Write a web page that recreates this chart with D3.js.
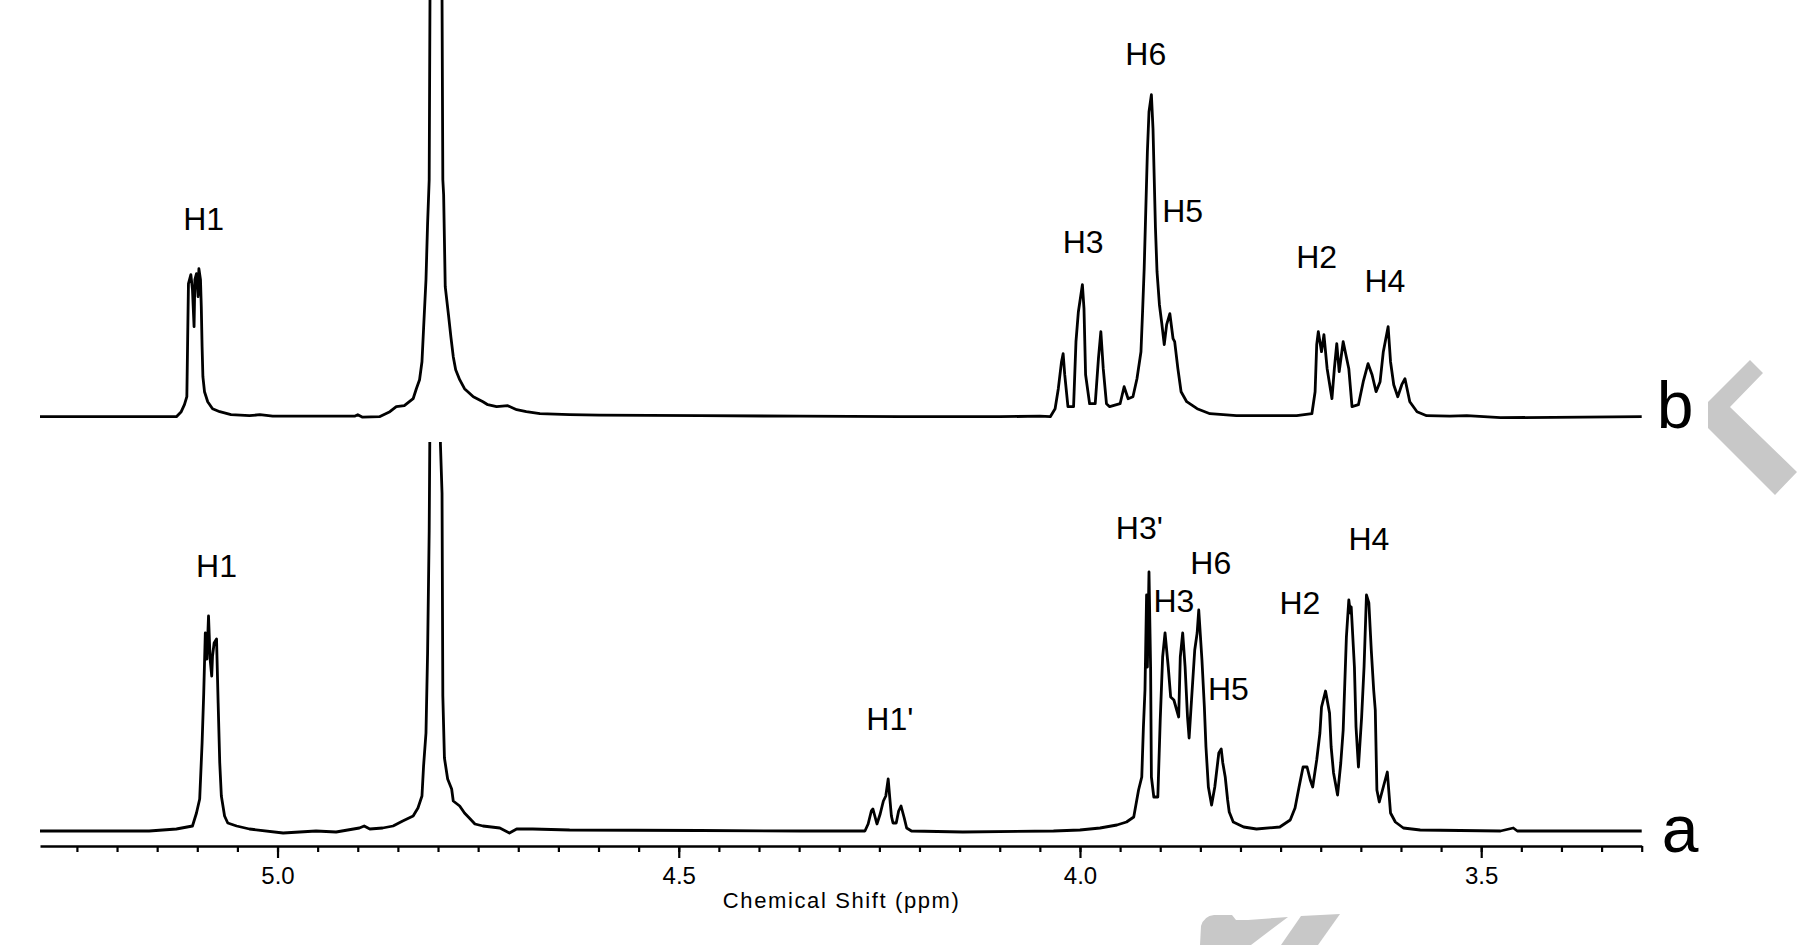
<!DOCTYPE html>
<html>
<head>
<meta charset="utf-8">
<script src="https://cdn.jsdelivr.net/npm/d3@7/dist/d3.min.js"></script>
<style>
  body { margin: 0; background: #fff; }
  text { font-family: "Liberation Sans", Arial, sans-serif; fill: #000; }
</style>
</head>
<body>
<div id="chart"></div>
<script>
// spectrum b (upper trace): chemical shift (ppm) and intensity
const bPpm = [5.296, 5.197, 5.126, 5.120, 5.116, 5.113, 5.112, 5.111, 5.108, 5.106, 5.104, 5.103, 5.101, 5.099, 5.098,
  5.096, 5.095, 5.094, 5.093, 5.091, 5.087, 5.081, 5.072, 5.058, 5.035, 5.022, 5.006, 4.904, 4.900, 4.894, 4.873,
  4.860, 4.852, 4.842, 4.831, 4.827, 4.823, 4.820, 4.818, 4.815, 4.813, 4.811, 4.810, 4.809, 4.802, 4.796, 4.795,
  4.794, 4.793, 4.791, 4.787, 4.784, 4.781, 4.778, 4.773, 4.767, 4.756, 4.744, 4.738, 4.727, 4.713, 4.702, 4.690,
  4.673, 4.636, 4.599, 4.474, 4.349, 4.224, 4.100, 4.050, 4.037, 4.031, 4.027, 4.023, 4.021, 4.019, 4.015, 4.008,
  4.005, 4.002, 3.997, 3.995, 3.993, 3.988, 3.981, 3.977, 3.974, 3.971, 3.967, 3.963, 3.950, 3.945, 3.940, 3.934,
  3.929, 3.924, 3.922, 3.920, 3.916, 3.914, 3.911, 3.909, 3.906, 3.904, 3.901, 3.898, 3.895, 3.892, 3.888, 3.884,
  3.882, 3.878, 3.874, 3.867, 3.854, 3.838, 3.805, 3.730, 3.711, 3.707, 3.705, 3.703, 3.699, 3.696, 3.692, 3.686,
  3.683, 3.680, 3.677, 3.672, 3.665, 3.661, 3.653, 3.647, 3.641, 3.636, 3.631, 3.626, 3.622, 3.616, 3.613, 3.609,
  3.604, 3.599, 3.595, 3.589, 3.580, 3.568, 3.539, 3.518, 3.476, 3.300];
const bIntensity = [0, 0, 0, 5, 12, 20, 77, 133, 142, 127, 90, 137, 143, 120, 148,
  137, 110, 70, 40, 25, 15, 8, 5, 2, 1, 2, 0.5, 0.5, 2, -0.5, 0,
  5, 10, 11, 18, 28, 37, 55, 88, 137, 193, 237, 420, 800, 900, 800, 420,
  237, 222, 130, 102, 80, 60, 47, 37, 28, 20, 15, 12, 10, 11, 7, 5,
  3, 2, 1.5, 1, 0.5, 0, 0, 0.5, 0, 8, 28, 55, 63, 42, 10, 10,
  75, 105, 132, 108, 42, 13, 13, 58, 85, 48, 13, 10, 13, 30, 18, 20,
  38, 65, 105, 148, 265, 305, 322, 288, 190, 145, 112, 93, 72, 92, 103, 78,
  75, 48, 25, 15, 8, 3, 1, 1, 3, 25, 72, 85, 65, 82, 48, 18,
  48, 73, 45, 75, 48, 10, 12, 35, 53, 42, 25, 35, 65, 90, 55, 32,
  20, 32, 38, 15, 5, 1, 0.5, 1, -1, 0];

// spectrum a (lower trace)
const aPpm = [5.296, 5.160, 5.126, 5.106, 5.101, 5.097, 5.094, 5.092, 5.090, 5.088, 5.086, 5.084, 5.082, 5.081, 5.079,
  5.076, 5.074, 5.072, 5.070, 5.066, 5.062, 5.051, 5.035, 4.993, 4.952, 4.927, 4.898, 4.892, 4.885, 4.869, 4.856,
  4.844, 4.831, 4.825, 4.820, 4.818, 4.815, 4.813, 4.811, 4.810, 4.809, 4.804, 4.798, 4.797, 4.795, 4.794, 4.792,
  4.788, 4.783, 4.781, 4.773, 4.767, 4.761, 4.754, 4.744, 4.723, 4.711, 4.702, 4.682, 4.636, 4.474, 4.349, 4.299,
  4.268, 4.264, 4.260, 4.258, 4.253, 4.249, 4.245, 4.242, 4.239, 4.237, 4.235, 4.233, 4.229, 4.226, 4.223, 4.219,
  4.216, 4.210, 4.146, 4.033, 4.000, 3.975, 3.954, 3.942, 3.933, 3.927, 3.923, 3.921, 3.919, 3.917, 3.916, 3.914,
  3.912, 3.911, 3.908, 3.903, 3.900, 3.897, 3.894, 3.890, 3.887, 3.883, 3.877, 3.875, 3.872, 3.869, 3.866, 3.864,
  3.861, 3.857, 3.854, 3.852, 3.848, 3.845, 3.843, 3.840, 3.836, 3.832, 3.827, 3.824, 3.822, 3.819, 3.816, 3.814,
  3.809, 3.796, 3.780, 3.751, 3.738, 3.732, 3.727, 3.722, 3.717, 3.713, 3.710, 3.705, 3.701, 3.699, 3.694, 3.689,
  3.687, 3.684, 3.679, 3.675, 3.672, 3.668, 3.665, 3.663, 3.662, 3.658, 3.656, 3.653, 3.649, 3.646, 3.643, 3.640,
  3.637, 3.634, 3.632, 3.630, 3.627, 3.622, 3.617, 3.613, 3.607, 3.597, 3.576, 3.476, 3.460, 3.455, 3.300];
const aIntensity = [0, 0, 2, 5, 18, 32, 88, 137, 198, 172, 215, 172, 155, 175, 188,
  192, 128, 68, 35, 15, 8, 5, 2, -2, 0, -1, 3, 5, 2, 3, 5,
  10, 15, 23, 35, 65, 98, 178, 300, 420, 800, 900, 800, 387, 338, 135, 73,
  52, 42, 30, 25, 18, 13, 7, 5, 3, -2, 2, 2, 1, 0.5, 0, 0,
  0, 7, 20, 22, 7, 17, 30, 35, 52, 33, 15, 8, 8, 20, 25, 13,
  3, 0, -1, 0, 1, 3, 6, 9, 14, 41, 54, 103, 141, 236, 164, 259,
  164, 54, 34, 34, 111, 174, 198, 164, 134, 131, 114, 174, 198, 164, 114, 93,
  131, 181, 198, 221, 171, 124, 84, 44, 26, 44, 78, 82, 68, 54, 31, 19,
  9, 4, 2, 4, 11, 23, 44, 64, 64, 51, 44, 71, 98, 124, 140, 118,
  84, 58, 36, 68, 101, 194, 231, 218, 224, 164, 104, 64, 114, 164, 236, 228,
  181, 141, 121, 41, 29, 44, 59, 18, 9, 3, 1, 0, 3, 0, 0];

// peak assignments
const bLabels = ["H1", "H3", "H6", "H5", "H2", "H4"];
const bLabelPpm = [5.092, 3.996, 3.918, 3.872, 3.705, 3.620];
const bLabelHeight = [187, 164, 352, 195, 149, 125];
const aLabels = ["H1", "H1'", "H3'", "H3", "H6", "H5", "H2", "H4"];
const aLabelPpm = [5.076, 4.237, 3.926, 3.883, 3.837, 3.815, 3.726, 3.640];
const aLabelHeight = [254, 101, 292, 219, 257, 131, 217, 281];

// axis
const majorTicks = [5.0, 4.5, 4.0, 3.5];
const minorTicks = d3.range(66, 106).map(i => i * 0.05);
const axisTitle = "Chemical Shift (ppm)";

const width = 1803;
const height = 945;
const axisY = 846;
const baseA = 831;
const baseB = 416.7;

const svg = d3.select('#chart').append('svg')
  .attr('width', width)
  .attr('height', height);

svg.append('rect')
  .attr('width', width)
  .attr('height', height)
  .attr('fill', '#fff');

// faint grey watermark pieces
const grey = svg.append('g').attr('fill', '#c8c8c8');
grey.append('path')
  .attr('d', 'M1750,360 L1763,373 L1730,407 L1797,472 L1775,495 L1708,428 L1708,402 Z');
grey.append('path')
  .attr('d', 'M1200,945 L1201,926 Q1204,916 1214,915 L1232,915 L1236,920 L1248,920 L1288,917 L1251,945 Z');
grey.append('path')
  .attr('d', 'M1301,916 L1340,914 L1318,945 L1281,945 Z');

const x = d3.scaleLinear()
  .domain([5.296, 3.3])
  .range([40, 1641.7]);

const yA = d3.scaleLinear().domain([0, 400]).range([baseA, baseA - 400]);
const yB = d3.scaleLinear().domain([0, 400]).range([baseB, baseB - 400]);

const defs = svg.append('defs');
defs.append('clipPath').attr('id', 'clip-a')
  .append('rect').attr('x', 0).attr('y', 442).attr('width', width).attr('height', axisY - 442);
defs.append('clipPath').attr('id', 'clip-b')
  .append('rect').attr('x', 0).attr('y', 0).attr('width', width).attr('height', 442);

const drawTrace = (ppm, intensity, y, clip) => {
  const points = ppm.map((p, i) => ({ ppm: p, v: intensity[i] }));
  const line = d3.line()
    .x(d => x(d.ppm))
    .y(d => y(d.v));
  svg.append('path')
    .datum(points)
    .attr('clip-path', 'url(#' + clip + ')')
    .attr('fill', 'none')
    .attr('stroke', '#000')
    .attr('stroke-width', 2.8)
    .attr('stroke-linejoin', 'round')
    .attr('d', line);
};

drawTrace(bPpm, bIntensity, yB, 'clip-b');
drawTrace(aPpm, aIntensity, yA, 'clip-a');

const drawLabels = (labels, ppm, heights, y) => {
  svg.append('g')
    .selectAll('text')
    .data(labels)
    .enter()
    .append('text')
    .attr('x', (d, i) => x(ppm[i]))
    .attr('y', (d, i) => y(heights[i]))
    .attr('text-anchor', 'middle')
    .style('font-size', '32px')
    .text(d => d);
};

drawLabels(bLabels, bLabelPpm, bLabelHeight, yB);
drawLabels(aLabels, aLabelPpm, aLabelHeight, yA);

// trace names at the right end
svg.append('text')
  .attr('x', x(3.3) + 15)
  .attr('y', baseB + 11)
  .style('font-size', '66px')
  .text('b');
svg.append('text')
  .attr('x', x(3.3) + 20)
  .attr('y', baseA + 21)
  .style('font-size', '66px')
  .text('a');

// x axis: minor ticks every 0.05 ppm, labelled major ticks every 0.5 ppm
const minorAxis = svg.append('g')
  .attr('transform', 'translate(0,' + axisY + ')')
  .call(d3.axisBottom(x).tickValues(minorTicks).tickSize(6).tickSizeOuter(0).tickFormat(''));
minorAxis.select('.domain').attr('stroke-width', 2.6);
minorAxis.selectAll('.tick line').attr('stroke-width', 2.2);

const majorAxis = svg.append('g')
  .attr('transform', 'translate(0,' + axisY + ')')
  .call(d3.axisBottom(x).tickValues(majorTicks).tickSize(12).tickSizeOuter(0).tickFormat(d3.format('.1f')));
majorAxis.select('.domain').remove();
majorAxis.selectAll('.tick line').attr('stroke-width', 2.2);
majorAxis.selectAll('.tick text')
  .attr('y', 21)
  .attr('dy', '0.71em')
  .style('font-size', '24px')
  .style('font-family', '"Liberation Sans", Arial, sans-serif')
  .attr('fill', '#000');

svg.append('text')
  .attr('x', (x.range()[0] + x.range()[1]) / 2)
  .attr('y', 908)
  .attr('text-anchor', 'middle')
  .attr('textLength', 236)
  .attr('lengthAdjust', 'spacing')
  .style('font-size', '22px')
  .text(axisTitle);
</script>
</body>
</html>
